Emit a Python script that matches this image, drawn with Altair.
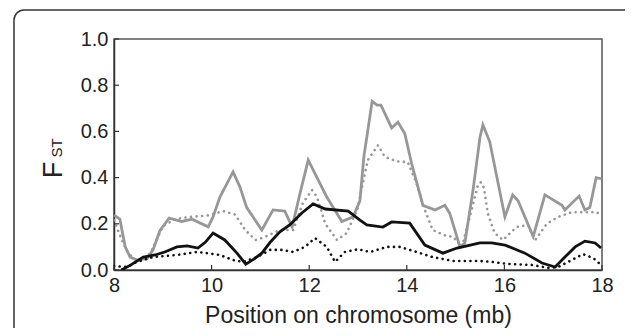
import altair as alt
import pandas as pd

# ---- data ----
gray_solid_x = [8.0, 8.12, 8.23, 8.33, 8.47, 8.68, 8.8, 8.94, 9.13, 9.39, 9.6, 9.93, 10.03, 10.17,
                10.44, 10.58, 10.72, 11.03, 11.26, 11.5, 11.65, 11.81, 11.98, 12.16, 12.36, 12.67,
                12.9, 13.04, 13.12, 13.29, 13.39, 13.47, 13.69, 13.82, 13.96, 14.1, 14.33, 14.58,
                14.78, 14.88, 15.09, 15.19, 15.36, 15.5, 15.56, 15.7, 16.01, 16.17, 16.28, 16.59,
                16.83, 17.18, 17.24, 17.53, 17.65, 17.75, 17.88, 17.98]
gray_solid_y = [0.238, 0.22, 0.10, 0.056, 0.043, 0.05, 0.087, 0.17, 0.225, 0.21, 0.22, 0.187, 0.23, 0.316,
                0.425, 0.36, 0.27, 0.173, 0.26, 0.255, 0.186, 0.33, 0.476, 0.40, 0.316, 0.21,
                0.23, 0.30, 0.49, 0.73, 0.714, 0.714, 0.615, 0.64, 0.59, 0.46, 0.28, 0.26,
                0.28, 0.245, 0.10, 0.117, 0.35, 0.575, 0.628, 0.555, 0.23, 0.325, 0.30, 0.145,
                0.325, 0.28, 0.26, 0.32, 0.26, 0.27, 0.40, 0.395]

gray_dot_x = [8.0, 8.16, 8.29, 8.47, 8.68, 8.8, 9.0, 9.25, 9.56, 9.9, 10.24, 10.48, 10.7, 10.9, 11.06,
              11.4, 11.67, 11.87, 12.06, 12.16, 12.33, 12.57, 12.77, 13.0, 13.04, 13.2, 13.41, 13.55,
              13.8, 14.02, 14.2, 14.37, 14.53, 14.78, 14.95, 15.13, 15.34, 15.46, 15.52, 15.58,
              15.66, 15.8, 15.97, 16.25, 16.48, 16.63, 16.87, 17.1, 17.38, 17.65, 17.9, 17.98]
gray_dot_y = [0.215, 0.13, 0.073, 0.04, 0.056, 0.095, 0.19, 0.22, 0.23, 0.235, 0.255, 0.24, 0.17, 0.13, 0.14,
              0.173, 0.173, 0.29, 0.346, 0.316, 0.20, 0.13, 0.16, 0.27, 0.316, 0.476, 0.54, 0.49,
              0.47, 0.467, 0.375, 0.26, 0.173, 0.15, 0.143, 0.10, 0.27, 0.37, 0.38, 0.355,
              0.245, 0.16, 0.13, 0.186, 0.195, 0.13, 0.20, 0.23, 0.25, 0.25, 0.25, 0.23]

black_solid_x = [8.15, 8.33, 8.6, 8.84, 9.04, 9.29, 9.5, 9.72, 9.87, 10.03, 10.27, 10.52, 10.7, 10.85,
                 11.03, 11.2, 11.4, 11.6, 11.85, 12.08, 12.33, 12.8, 13.04, 13.18, 13.51, 13.69, 14.06,
                 14.37, 14.74, 15.03, 15.3, 15.5, 15.74, 16.01, 16.42, 16.77, 17.04, 17.24, 17.45,
                 17.65, 17.86, 17.98]
black_solid_y = [0.0, 0.02, 0.056, 0.065, 0.078, 0.10, 0.104, 0.095, 0.12, 0.16, 0.13, 0.073, 0.025, 0.045,
                 0.073, 0.12, 0.165, 0.195, 0.247, 0.286, 0.264, 0.255, 0.216, 0.195, 0.186, 0.208, 0.203,
                 0.108, 0.073, 0.095, 0.108, 0.117, 0.117, 0.108, 0.073, 0.03, 0.013, 0.056, 0.10,
                 0.125, 0.117, 0.095]

black_dot_x = [8.0, 8.27, 8.47, 8.8, 9.29, 9.7, 9.9, 10.17, 10.44, 10.65, 10.93, 11.2, 11.44, 11.67,
               11.91, 12.12, 12.36, 12.53, 12.73, 13.0, 13.25, 13.59, 13.86, 14.2, 14.53, 14.95, 15.5,
               15.74, 16.07, 16.56, 16.9, 17.1, 17.38, 17.61, 17.82, 17.98]
black_dot_y = [0.017, 0.013, 0.035, 0.056, 0.065, 0.078, 0.073, 0.065, 0.043, 0.035, 0.056, 0.087, 0.087, 0.078,
               0.10, 0.138, 0.10, 0.035, 0.078, 0.09, 0.078, 0.10, 0.10, 0.078, 0.056, 0.039, 0.039,
               0.035, 0.026, 0.022, 0.009, 0.013, 0.043, 0.069, 0.052, 0.022]

x_ticks = [8, 10, 12, 14, 16, 18]
y_ticks = [0.0, 0.2, 0.4, 0.6, 0.8, 1.0]
x_title = "Position on chromosome (mb)"

W, H = 488, 231
GRAY = "#979797"
DARK = "#111111"
FONT = "Liberation Sans"

xscale = alt.Scale(domain=[8, 18], nice=False, zero=False)
yscale = alt.Scale(domain=[0, 1], nice=False)

xaxis = alt.Axis(values=x_ticks, format="d", ticks=False, grid=False, labelFontSize=20,
                 labelPadding=5, title=x_title, titleFontSize=23, titleFontWeight="normal",
                 titlePadding=9, labelFont=FONT, titleFont=FONT, labelColor="#222",
                 titleColor="#222", domainColor="#333", domainWidth=1.5, labelFlush=False)
yaxis = alt.Axis(values=y_ticks, format=".1f", ticks=False, grid=False, labelFontSize=20,
                 labelPadding=6, title=None, labelFont=FONT, labelColor="#222",
                 domainColor="#333", domainWidth=1.5)


def X(field):
    return alt.X(field, scale=xscale, axis=xaxis, title=x_title)


def Y(field):
    return alt.Y(field, scale=yscale, axis=yaxis, title=None)


def line(xs, ys, color, width, dash=None):
    df = pd.DataFrame({"pos": xs, "fst": ys})
    kw = dict(color=color, strokeWidth=width, clip=True)
    if dash:
        kw.update(strokeDash=dash, strokeCap="round")
    return alt.Chart(df).mark_line(**kw).encode(x=X("pos:Q"), y=Y("fst:Q"))


gs = line(gray_solid_x, gray_solid_y, GRAY, 2.8)
gd = line(gray_dot_x, gray_dot_y, GRAY, 2.6, dash=[0.1, 5.5])
bs = line(black_solid_x, black_solid_y, DARK, 2.8)
bd = line(black_dot_x, black_dot_y, DARK, 2.6, dash=[0.1, 5.5])

xt = alt.Chart(pd.DataFrame({"t": x_ticks})).mark_rule(color="#333", strokeWidth=1.2).encode(
    x=X("t:Q"), y=alt.value(H), y2=alt.value(H - 5))
yt = alt.Chart(pd.DataFrame({"t": y_ticks})).mark_rule(color="#333", strokeWidth=1.2).encode(
    y=Y("t:Q"), x=alt.value(0), x2=alt.value(5))

one = pd.DataFrame({"a": [0]})
f_text = alt.Chart(one).mark_text(text="F", fontSize=27, font=FONT, angle=270, align="center",
                                  baseline="alphabetic", color="#222").encode(
    x=alt.value(-52), y=alt.value(131))
st_text = alt.Chart(one).mark_text(text="ST", fontSize=15, font=FONT, angle=270, align="center",
                                   baseline="alphabetic", color="#222").encode(
    x=alt.value(-52), y=alt.value(109))

border = alt.Chart(one).mark_rect(fill="transparent", stroke="#333", strokeWidth=1.5,
                                  cornerRadius=10).encode(
    x=alt.value(-100), y=alt.value(-29), x2=alt.value(530), y2=alt.value(330))

chart = alt.layer(gs, gd, bs, bd, xt, yt, border, f_text, st_text).properties(
    width=W, height=H,
    autosize=alt.AutoSizeParams(type="none"),
    padding={"left": 106, "top": 31, "right": 23, "bottom": 58},
    background="white",
).configure_view(stroke="#555", strokeWidth=1.5)

chart.save("out.html", embed_options={"renderer": "svg", "actions": False})
